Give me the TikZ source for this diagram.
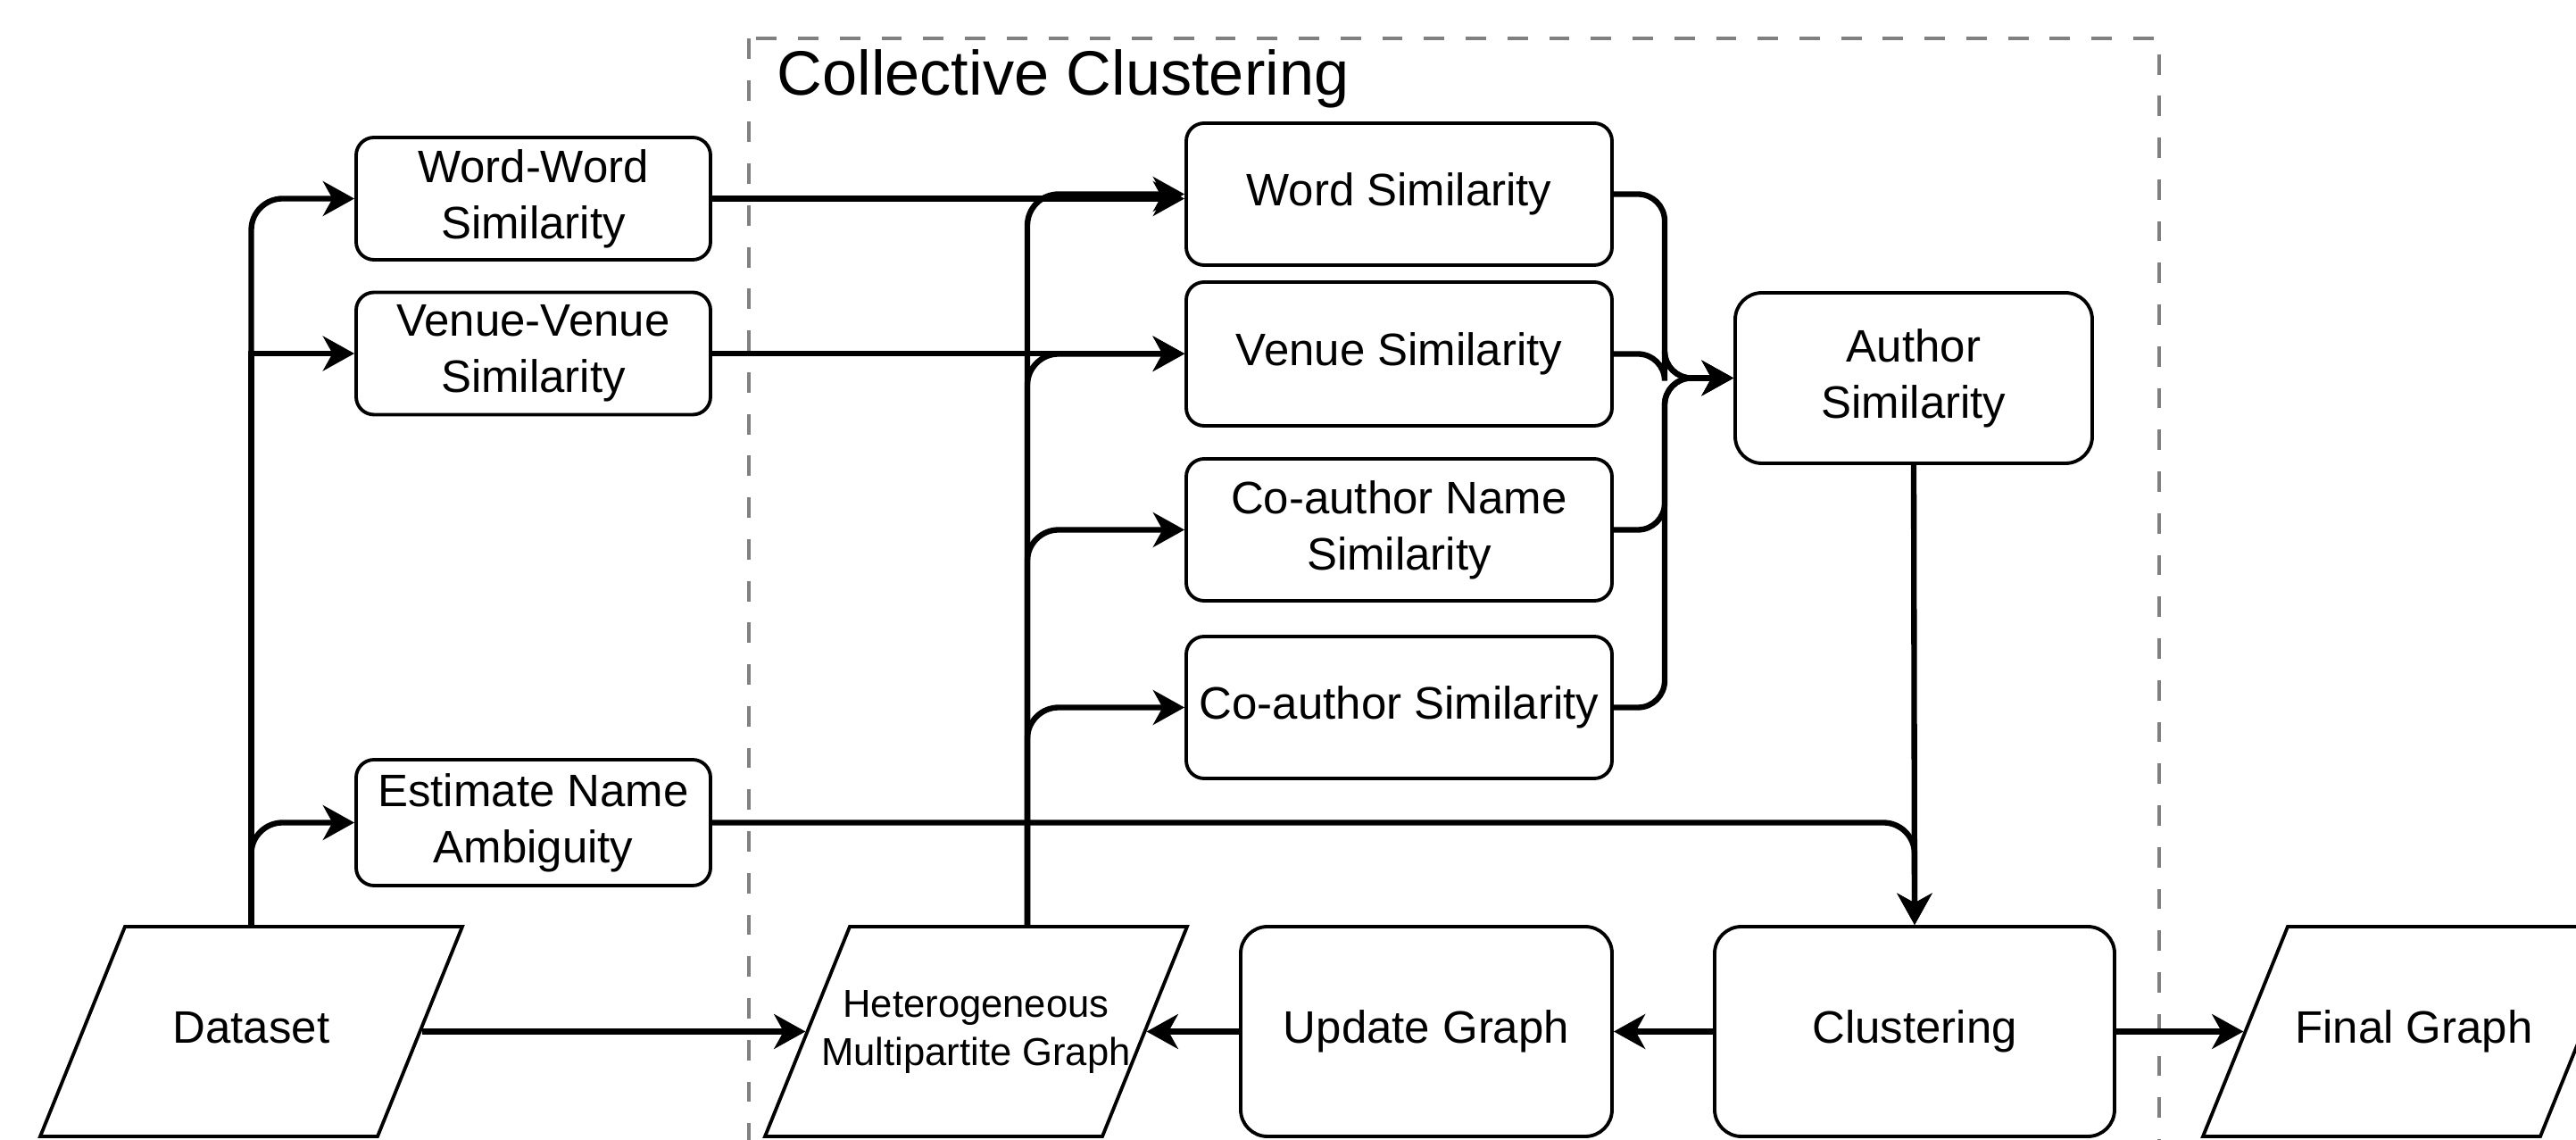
\documentclass[tikz,border=0pt]{standalone}
\usepackage{fontspec}
\setmainfont{Liberation Sans}
\usepackage{tikz}
\usetikzlibrary{arrows.meta,shapes.geometric}

\definecolor{dashgray}{RGB}{128,128,128}
\newcommand{\iotext}[1]{\parbox[c][2.35cm][c]{2.83cm}{\centering\makebox[2.83cm]{\begin{tabular}{@{}c@{}}#1\end{tabular}}}}
\tikzset{
	proc/.style={draw,line width=1.1pt,rounded corners=0.2cm,align=center,inner sep=0pt,
		font=\fontsize{14.5}{18}\selectfont},
	big/.style={rounded corners=0.3cm},
	io/.style={draw,line width=1.1pt,trapezium,trapezium left angle=68,trapezium right angle=112,
		inner sep=0pt,font=\fontsize{14.5}{18}\selectfont},
	flow/.style={line width=1.8pt,-{Stealth[length=10pt,width=11pt,inset=3pt]}},
}

\begin{document}
\begin{tikzpicture}
	\useasboundingbox (0,0) rectangle (28.86,-12.77);
	\clip (0,0) rectangle (28.86,-12.77);
	%
	\draw[dashgray,line width=1.3pt,dash pattern=on 6.5pt off 6.8pt] (8.39,-0.43) rectangle (24.19,-13.3);
	\node[anchor=base west,inner sep=0pt,font=\fontsize{20}{24}\selectfont] (title) at (8.70,-1.07) {Collective Clustering};
	%
	\node[io] (ds) at (2.815,-11.555) {\iotext{Dataset}};
	\node[io,font=\fontsize{12.4}{15.6}\selectfont] (hg) at (10.935,-11.555) {\iotext{Heterogeneous\\Multipartite Graph}};
	\node[io] (fg) at (27.045,-11.555) {\iotext{Final Graph}};
	%
	\node[proc,minimum width=3.97cm,minimum height=1.37cm] (ww) at (5.975,-2.225) {Word-Word\\Similarity};
	\node[proc,minimum width=3.97cm,minimum height=1.37cm] (vv) at (5.975,-3.96) {Venue-Venue\\Similarity};
	\node[proc,minimum width=3.97cm,minimum height=1.41cm] (en) at (5.975,-9.215) {Estimate Name\\Ambiguity};
	%
	\node[proc,minimum width=4.77cm,minimum height=1.59cm] (ws) at (15.675,-2.175) {Word Similarity};
	\node[proc,minimum width=4.77cm,minimum height=1.61cm] (vs) at (15.675,-3.965) {Venue Similarity};
	\node[proc,minimum width=4.77cm,minimum height=1.59cm] (cn) at (15.675,-5.935) {Co-author Name\\Similarity};
	\node[proc,minimum width=4.77cm,minimum height=1.59cm] (cs) at (15.675,-7.925) {Co-author Similarity};
	\node[proc,big,minimum width=4.00cm,minimum height=1.91cm] (as) at (21.44,-4.235) {Author\\Similarity};
	%
	\node[proc,big,minimum width=4.16cm,minimum height=2.35cm] (ug) at (15.98,-11.555) {Update Graph};
	\node[proc,big,minimum width=4.48cm,minimum height=2.35cm] (cl) at (21.45,-11.555) {Clustering};
	%
	\coordinate (hub) at (11.51,-10.38);
	\coordinate (bus) at (18.65,-4.235);
	%
	\path[flow]
		(ww.east) edge (ww.east -| ws.west)
		(vv.east) edge (vv.east -| vs.west)
		(as.south) edge (cl.north)
		(ds.east) edge (hg.west)
		(cl.west) edge (ug.east)
		(ug.west) edge (hg.east)
		(cl.east) edge (fg.west);
	%
	\draw[flow,rounded corners=0.35cm] (ds.north) |- (ww.west);
	\draw[flow] (ds.north) |- (vv.west);
	\draw[flow,rounded corners=0.35cm] (ds.north) |- (en.west);
	\draw[flow,rounded corners=0.35cm] (en.east) -| (cl.north);
	%
	\draw[flow,rounded corners=0.35cm] (hub) |- (ws.west);
	\draw[flow,rounded corners=0.35cm] (hub) |- (vs.west);
	\draw[flow,rounded corners=0.35cm] (hub) |- (cn.west);
	\draw[flow,rounded corners=0.35cm] (hub) |- (cs.west);
	%
	\draw[flow,rounded corners=0.3cm] (ws.east) -| (bus) -- (as.west);
	\draw[flow,rounded corners=0.3cm] (vs.east) -| (bus) -- (as.west);
	\draw[flow,rounded corners=0.3cm] (cn.east) -| (bus) -- (as.west);
	\draw[flow,rounded corners=0.3cm] (cs.east) -| (bus) -- (as.west);
\end{tikzpicture}
\end{document}
